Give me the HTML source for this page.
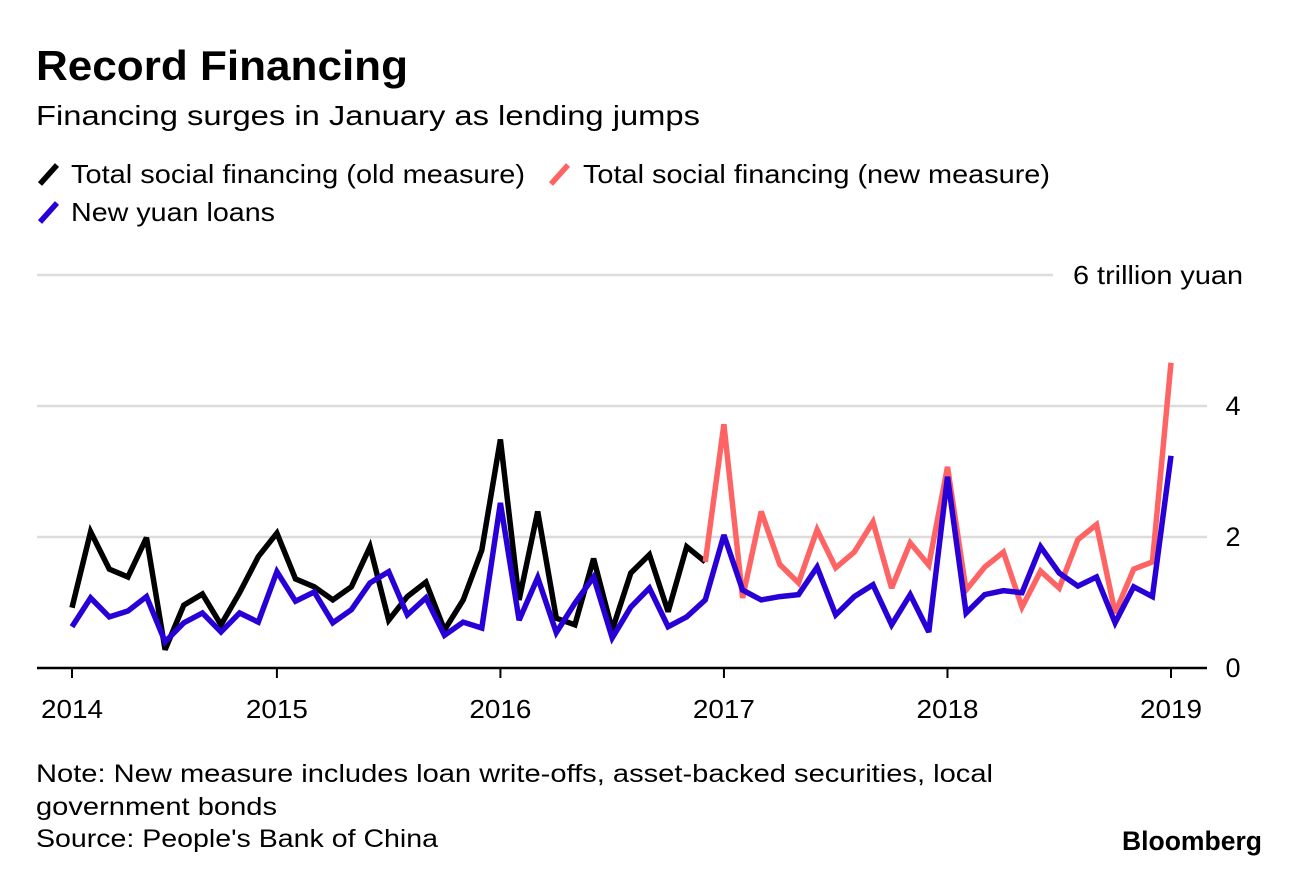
<!DOCTYPE html>
<html><head><meta charset="utf-8"><style>
body{margin:0;background:#fff;font-family:"Liberation Sans",sans-serif;}
svg{display:block}
</style></head><body>
<svg width="1290" height="870" xmlns="http://www.w3.org/2000/svg" font-family="Liberation Sans, sans-serif">
<text x="36" y="80" font-size="42" font-weight="bold" fill="#000" textLength="372" lengthAdjust="spacingAndGlyphs">Record Financing</text>
<text x="36" y="125" font-size="28" fill="#000" textLength="664" lengthAdjust="spacingAndGlyphs">Financing surges in January as lending jumps</text>
<g font-size="26">
<g><line x1="40" y1="184" x2="57" y2="165" stroke="#000" stroke-width="5.5"/><text x="71" y="183" textLength="454" lengthAdjust="spacingAndGlyphs">Total social financing (old measure)</text></g>
<g><line x1="551" y1="184" x2="568" y2="165" stroke="#ff6464" stroke-width="5.5"/><text x="583" y="183" textLength="467" lengthAdjust="spacingAndGlyphs">Total social financing (new measure)</text></g>
<g><line x1="40" y1="222" x2="57" y2="203" stroke="#2800d7" stroke-width="5.5"/><text x="71" y="221" textLength="204" lengthAdjust="spacingAndGlyphs">New yuan loans</text></g>
</g>
<g id="grid"></g>
<g id="axes"></g>
<g id="series"></g>
<text x="36" y="782" font-size="25" textLength="957" lengthAdjust="spacingAndGlyphs">Note: New measure includes loan write-offs, asset-backed securities, local</text>
<text x="36" y="815" font-size="25" textLength="241" lengthAdjust="spacingAndGlyphs">government bonds</text>
<text x="36" y="847" font-size="25" textLength="402" lengthAdjust="spacingAndGlyphs">Source: People's Bank of China</text>
<text x="1122" y="850" font-size="27" font-weight="bold" textLength="140" lengthAdjust="spacingAndGlyphs">Bloomberg</text>
</svg>
<script>
const yearLabels=["2014","2015","2016","2017","2018","2019"];
const yearTickIndex=[0,11,23,35,47,59];
const yTicks=[0,2,4,6];
const oldMeasure=[0.92,2.08,1.51,1.39,1.99,0.28,0.96,1.13,0.66,1.15,1.70,2.06,1.36,1.24,1.04,1.24,1.85,0.73,1.09,1.31,0.58,1.04,1.80,3.49,1.04,2.39,0.76,0.66,1.67,0.58,1.45,1.73,0.86,1.85,1.62];
const newMeasure=[1.62,3.72,1.07,2.39,1.58,1.30,2.11,1.53,1.77,2.23,1.22,1.91,1.57,3.07,1.19,1.54,1.77,0.93,1.48,1.22,1.96,2.19,0.84,1.51,1.62,4.66];
const newStart=34;
const yuanLoans=[0.63,1.07,0.78,0.87,1.09,0.40,0.69,0.84,0.55,0.84,0.70,1.47,1.02,1.16,0.69,0.89,1.30,1.47,0.81,1.07,0.50,0.70,0.61,2.52,0.73,1.38,0.54,0.99,1.39,0.46,0.93,1.22,0.63,0.78,1.04,2.03,1.19,1.04,1.09,1.12,1.54,0.81,1.09,1.27,0.66,1.12,0.55,2.92,0.84,1.12,1.18,1.15,1.85,1.45,1.25,1.39,0.69,1.24,1.09,3.24];
const NS="http://www.w3.org/2000/svg";
const x=i=>72+i*(1171-72)/59;
const y=v=>668-v*65.5;
function mk(tag,attrs,parent){const e=document.createElementNS(NS,tag);for(const k in attrs)e.setAttribute(k,attrs[k]);parent.appendChild(e);return e;}
const grid=document.getElementById('grid'),axes=document.getElementById('axes'),series=document.getElementById('series');
yTicks.forEach(v=>{
  if(v>0){const l=mk('line',{x1:37,x2:v===6?1053:1207,y1:y(v),y2:y(v),stroke:'#dcdcdc','stroke-width':2.5},grid);
  
  }
  const attrs=v===6?{x:1073,y:y(v)+9,'font-size':26,textLength:170,lengthAdjust:'spacingAndGlyphs'}:{x:1233,y:y(v)+9,'font-size':27,'text-anchor':'middle'};
  const t=mk('text',attrs,axes);
  t.textContent=v===6?'6 trillion yuan':String(v);
  
  
});
const ax=mk('line',{x1:37,x2:1207,y1:668,y2:668,stroke:'#000','stroke-width':2.5},axes);


yearLabels.forEach((lab,k)=>{
  const xi=x(yearTickIndex[k]);
  const tk=mk('line',{x1:xi,x2:xi,y1:668,y2:678,stroke:'#000','stroke-width':2},axes);
  
  
  const t=mk('text',{x:xi,y:718,'font-size':26,'text-anchor':'middle',textLength:62,lengthAdjust:'spacingAndGlyphs'},axes);
  t.textContent=lab;
  
  
});
function line(vals,start,color,name){
  const pts=vals.map((v,i)=>x(i+start).toFixed(1)+','+y(v).toFixed(1)).join(' ');
  const p=mk('polyline',{points:pts,fill:'none',stroke:color,'stroke-width':5.5,'stroke-linejoin':'miter','stroke-miterlimit':3},series);
  
  
}
line(oldMeasure,0,'#000','line-old-measure');
line(newMeasure,newStart,'#ff6464','line-new-measure');
line(yuanLoans,0,'#2800d7','line-new-yuan-loans');
</script>
</body></html>
